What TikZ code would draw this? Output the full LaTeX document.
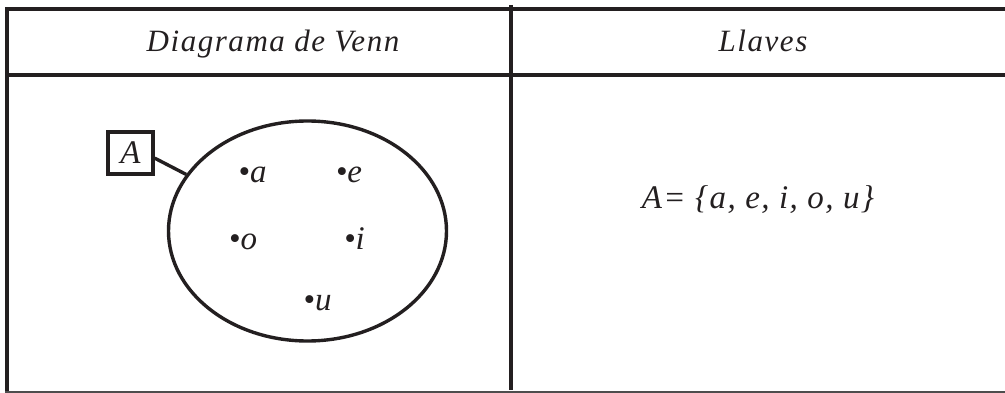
\documentclass[tikz,border=0pt]{standalone}
\usepackage{fontspec}
\setmainfont{Liberation Serif}
\usepackage{xcolor}
\definecolor{InkBlack}{HTML}{231F20}
\definecolor{EdgeGray}{HTML}{4D4D4D}
\usetikzlibrary{shapes.geometric}

\begin{document}
\begin{tikzpicture}[x=1pt, y=-1pt, every node/.style={inner sep=0pt, text=InkBlack}, titulo/.style={anchor=base, font=\fontsize{31}{36}\selectfont\itshape\addfontfeature{LetterSpace=5}}, elem/.style={anchor=base, font=\fontsize{33}{38}\selectfont\itshape}, rule/.style={line width=3.4pt, InkBlack}]
        \useasboundingbox (0,0) rectangle (1005,393);

        % cuadro
        \draw[rule] (7,9) -- (1005,9);
        \draw[rule] (7,75) -- (1005,75);
        \draw[rule] (7,7.3) -- (7,391);
        \draw[rule] (511,5) -- (511,390);
        \draw[line width=2pt, EdgeGray] (5.3,391.5) -- (1005,391.5);

        \node[titulo] (hdrvenn) at (273,52) {Diagrama de Venn};
        \node[titulo] (hdrllaves) at (763,52) {Llaves};

        % diagrama
        \node[draw, ellipse, rule, minimum width=278pt, minimum height=220pt] (venn) at (307.5,231) {};
        \node[draw, rule, minimum width=45pt, minimum height=42pt, elem, anchor=center] (etiqA) at (130.5,153) {A};
        \draw[rule] (etiqA.-12) -- (venn.155);

        \node[elem] (elema) at (252.5,183) {•a};
        \node[elem] (eleme) at (349,183) {•e};
        \node[elem] (elemo) at (243,250) {•o};
        \node[elem] (elemi) at (354.5,250) {•i};
        \node[elem] (elemu) at (317.5,310) {•u};

        % llaves
        \node[elem, font=\fontsize{33}{38}\selectfont\itshape\addfontfeature{LetterSpace=4}] (conjA) at (758,208) {A= \{a, e, i, o, u\}};
    \end{tikzpicture}
\end{document}
